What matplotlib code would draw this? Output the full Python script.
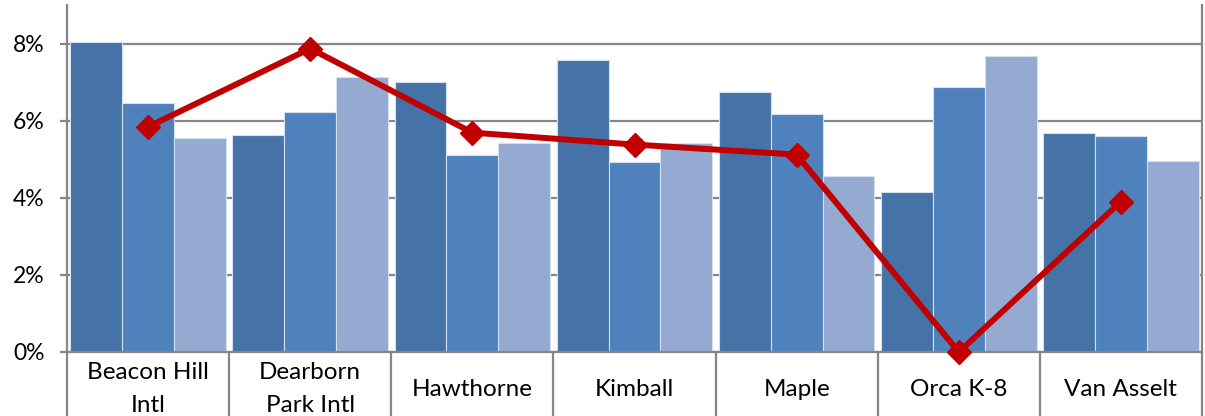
import matplotlib
matplotlib.use("Agg")
import matplotlib.pyplot as plt
import numpy as np
from matplotlib.ticker import FixedLocator, NullFormatter, FuncFormatter

categories = ["Beacon Hill\nIntl", "Dearborn\nPark Intl", "Hawthorne", "Kimball", "Maple", "Orca K-8", "Van Asselt"]
series_a = [8.05, 5.64, 7.01, 7.58, 6.75, 4.16, 5.69]
series_b = [6.47, 6.23, 5.12, 4.94, 6.18, 6.88, 5.61]
series_c = [5.56, 7.12, 5.43, 5.43, 4.57, 7.69, 4.96]
line_vals = [5.84, 7.87, 5.69, 5.38, 5.12, 0.0, 3.90]
y_ticks = [0, 2, 4, 6, 8]

plt.rcParams['font.family'] = ['Lato', 'DejaVu Sans']

fig = plt.figure(figsize=(12.05, 4.16), dpi=100)
ax = fig.add_axes([67/1205, 1-352/416, (1202-67)/1205, (352-5)/416])

n = len(categories)
centers = np.arange(n) + 0.5
w = 0.32
colors = ["#4572A7", "#4F81BD", "#95AAD0"]
for j, (vals, c) in enumerate(zip([series_a, series_b, series_c], colors)):
    ax.bar(centers + (j-1)*w, vals, width=w, color=c, edgecolor="#d5e0ef", linewidth=0.8, zorder=2)

ax.plot(centers, line_vals, color="#C00000", lw=4.3, marker="D", markersize=12,
        zorder=4, clip_on=False)

ax.set_xlim(0, n)
ax.set_ylim(0, 9)
ax.set_yticks(y_ticks)
ax.yaxis.set_major_formatter(FuncFormatter(lambda v, p: f"{v:.0f}%"))
ax.grid(axis="y", color="#868686", lw=1.6, zorder=1)
ax.set_axisbelow(True)

ax.xaxis.set_major_locator(FixedLocator(np.arange(n+1)))
ax.xaxis.set_major_formatter(NullFormatter())
ax.tick_params(axis="x", which="major", length=47, width=1.6, color="#868686", direction="out")
ax.tick_params(axis="y", length=5, width=1.6, color="#868686", pad=11, labelsize=16.5)

for c, lab in zip(centers, categories):
    ax.annotate(lab, xy=(c, 0), xycoords=("data", "axes fraction"),
                xytext=(0, -37), textcoords="offset pixels",
                ha="center", va="center", fontsize=17.5, linespacing=1.65,
                annotation_clip=False)

for s in ["left", "right", "bottom"]:
    ax.spines[s].set_color("#868686")
    ax.spines[s].set_linewidth(1.6)
ax.spines["top"].set_visible(False)

fig.savefig("out.png", dpi=100)
